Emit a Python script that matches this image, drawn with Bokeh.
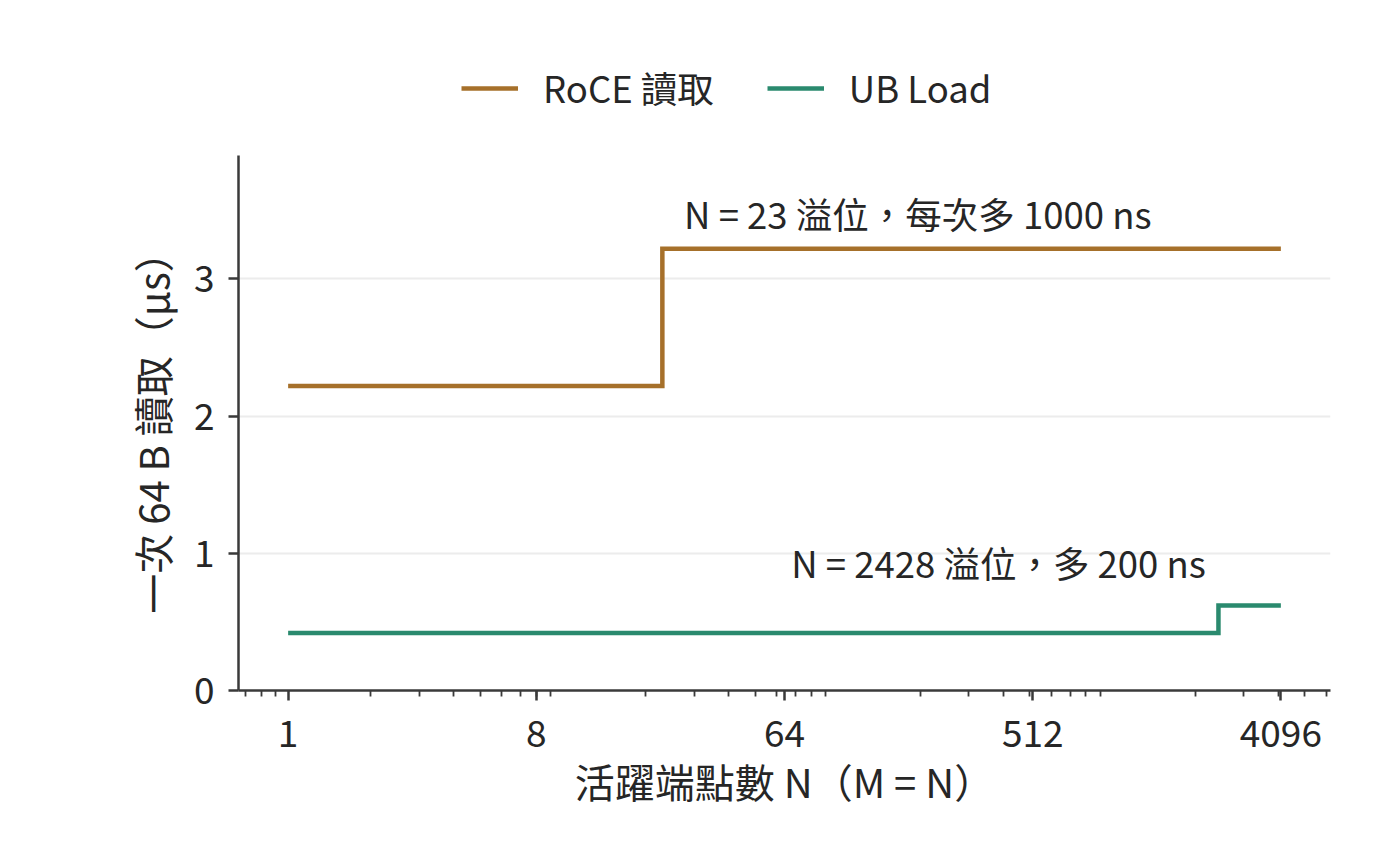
from bokeh.plotting import figure
from bokeh.layouts import column
from bokeh.models import Range1d, FixedTicker, Legend, LegendItem, Label
from bokeh.embed import file_html
from bokeh.resources import INLINE

# ---- data ----
roce_n = [1, 23, 4096]
roce_us = [2.22, 3.22, 3.22]
ub_n = [1, 2428, 4096]
ub_us = [0.42, 0.62, 0.62]
series_names = ["RoCE 讀取", "UB Load"]
x_ticks = [1, 8, 64, 512, 4096]
x_tick_labels = ["1", "8", "64", "512", "4096"]
y_ticks = [0, 1, 2, 3]
roce_note = "N = 23 溢位，每次多 1000 ns"
ub_note = "N = 2428 溢位，多 200 ns"
x_title = "活躍端點數 N（M = N）"
y_title = "一次 64 B 讀取（µs）"

FONT = "Noto Sans CJK TC"
TXT = "#262626"
AX = "#3a3a3a"
C_ROCE = "#a6702a"
C_UB = "#2a8a6e"
FS_TICK = "37px"
FS_NOTE = "36.5px"
FS_LABEL = "40px"
FS_LEG = "36.5px"
LW = 4.5

# ---------------- main chart ----------------
p = figure(x_axis_type="log", output_backend="svg", toolbar_location=None,
           frame_width=1092, frame_height=535,
           min_border_left=238, min_border_right=70,
           min_border_top=0, min_border_bottom=174,
           x_range=Range1d(2 ** -0.6, 2 ** 12.6), y_range=Range1d(0, 3.9))
p.outline_line_color = None
p.background_fill_color = "white"
p.border_fill_color = "white"

p.xgrid.grid_line_color = None
p.ygrid.ticker = FixedTicker(ticks=y_ticks)
p.ygrid.grid_line_color = "#ececec"
p.ygrid.grid_line_width = 2

r1 = p.step(roce_n, roce_us, mode="after", line_color=C_ROCE, line_width=LW, line_join="miter")
r2 = p.step(ub_n, ub_us, mode="after", line_color=C_UB, line_width=LW, line_join="miter")

minor = [m * 10 ** k for k in range(-1, 4) for m in range(2, 10)]
p.xaxis.ticker = FixedTicker(ticks=x_ticks, minor_ticks=minor)
p.xaxis.major_label_overrides = {t: l for t, l in zip(x_ticks, x_tick_labels)}
p.yaxis.ticker = FixedTicker(ticks=y_ticks)
for ax in (p.xaxis[0], p.yaxis[0]):
    ax.axis_line_color = AX
    ax.axis_line_width = 2.5
    ax.major_tick_line_color = AX
    ax.major_tick_line_width = 2.5
    ax.major_tick_out = 10
    ax.major_tick_in = 0
    ax.minor_tick_line_color = AX
    ax.minor_tick_line_width = 1.8
    ax.minor_tick_out = 6
    ax.minor_tick_in = 0
    ax.major_label_text_font = FONT
    ax.major_label_text_font_size = FS_TICK
    ax.major_label_text_color = TXT
    ax.axis_label_text_font = FONT
    ax.axis_label_text_font_size = FS_LABEL
    ax.axis_label_text_color = TXT
    ax.axis_label_text_font_style = "normal"
p.xaxis.axis_label = x_title
p.yaxis.axis_label = y_title
p.xaxis.major_label_standoff = 19
p.yaxis.major_label_standoff = 14
p.xaxis.axis_label_standoff = 2
p.yaxis.axis_label_standoff = 10

p.add_layout(Label(x=roce_n[1] * 1.2, y=roce_us[1] + 0.26, text=roce_note,
                   text_font=FONT, text_font_size=FS_NOTE, text_color=TXT,
                   text_align="left", text_baseline="alphabetic"))
p.add_layout(Label(x=ub_n[1] * 0.9, y=ub_us[1] + 0.31, text=ub_note,
                   text_font=FONT, text_font_size=FS_NOTE, text_color=TXT,
                   text_align="right", text_baseline="alphabetic"))

# ---------------- legend strip above ----------------
# (its frame is aligned with the main chart's frame by the column layout)
lg = figure(width=1400, height=155, output_backend="svg", toolbar_location=None,
            x_axis_location=None, y_axis_location=None,
            min_border=0, x_range=Range1d(-2, -1), y_range=Range1d(-2, -1))
lg.outline_line_color = None
lg.grid.visible = False
lg.background_fill_color = "white"
lg.border_fill_color = "white"
# same series drawn outside the strip's view, only to feed the legend glyphs
k1 = lg.line(roce_n, roce_us, line_color=C_ROCE, line_width=LW)
k2 = lg.line(ub_n, ub_us, line_color=C_UB, line_width=LW)
legend = Legend(items=[LegendItem(label=series_names[0], renderers=[k1]),
                       LegendItem(label=series_names[1], renderers=[k2])],
                orientation="horizontal", location=(223, 41),
                glyph_width=57, glyph_height=40, label_height=40,
                label_standoff=25, spacing=53, padding=0, margin=0,
                border_line_color=None, background_fill_alpha=0,
                label_text_font=FONT, label_text_font_size=FS_LEG, label_text_color=TXT)
lg.add_layout(legend, "center")

layout = column(lg, p, spacing=0)
open("out.html", "w").write(file_html(layout, INLINE))
